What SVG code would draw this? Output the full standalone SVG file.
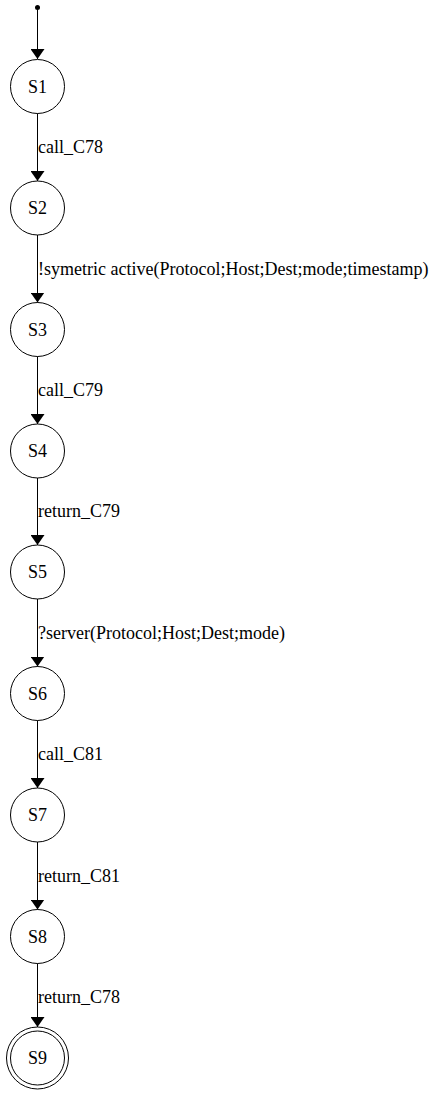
<svg xmlns="http://www.w3.org/2000/svg" width="439" height="1103" viewBox="0 0 439 1103">
<defs>
<style>
.n{fill:none;stroke:#000;stroke-width:1}
.t{font-family:"Liberation Serif","Times New Roman",serif;font-size:18px;fill:#000}
.c{text-anchor:middle}
.e{stroke:#000;stroke-width:1;fill:none}
</style>
<marker id="a" viewBox="0 0 10 14" refX="10" refY="7" markerWidth="10" markerHeight="14" markerUnits="userSpaceOnUse" orient="auto"><path d="M0,0L10,7L0,14Z" fill="#000"/></marker>
</defs>
<rect width="439" height="1103" fill="#fff"/>
<g id="edges">
<line class="e" x1="37.5" y1="9.5" x2="37.5" y2="59" marker-end="url(#a)"/>
<line class="e" x1="37.5" y1="113.5" x2="37.5" y2="181" marker-end="url(#a)"/>
<text class="t" x="38" y="152.5">call_C78</text>
<line class="e" x1="37.5" y1="235" x2="37.5" y2="302.5" marker-end="url(#a)"/>
<text class="t" x="38" y="274.5">!symetric active(Protocol;Host;Dest;mode;timestamp)</text>
<line class="e" x1="37.5" y1="356.5" x2="37.5" y2="424" marker-end="url(#a)"/>
<text class="t" x="38" y="395.5">call_C79</text>
<line class="e" x1="37.5" y1="478" x2="37.5" y2="545" marker-end="url(#a)"/>
<text class="t" x="38" y="517">return_C79</text>
<line class="e" x1="37.5" y1="599" x2="37.5" y2="666.5" marker-end="url(#a)"/>
<text class="t" x="38" y="638.5">?server(Protocol;Host;Dest;mode)</text>
<line class="e" x1="37.5" y1="720.5" x2="37.5" y2="788" marker-end="url(#a)"/>
<text class="t" x="38" y="760">call_C81</text>
<line class="e" x1="37.5" y1="842" x2="37.5" y2="909.5" marker-end="url(#a)"/>
<text class="t" x="38" y="881.5">return_C81</text>
<line class="e" x1="37.5" y1="963.5" x2="37.5" y2="1027" marker-end="url(#a)"/>
<text class="t" x="38" y="1003">return_C78</text>
</g>
<g id="init"><circle cx="37.5" cy="7.5" r="2.5" fill="#000"/></g>
<g id="S1"><circle class="n" cx="37.5" cy="86.5" r="27"/><text class="t c" x="37.5" y="92.5">S1</text></g>
<g id="S2"><circle class="n" cx="37.5" cy="208" r="27"/><text class="t c" x="37.5" y="214">S2</text></g>
<g id="S3"><circle class="n" cx="37.5" cy="329.5" r="27"/><text class="t c" x="37.5" y="335.5">S3</text></g>
<g id="S4"><circle class="n" cx="37.5" cy="451" r="27"/><text class="t c" x="37.5" y="457">S4</text></g>
<g id="S5"><circle class="n" cx="37.5" cy="572" r="27"/><text class="t c" x="37.5" y="578">S5</text></g>
<g id="S6"><circle class="n" cx="37.5" cy="693.5" r="27"/><text class="t c" x="37.5" y="699.5">S6</text></g>
<g id="S7"><circle class="n" cx="37.5" cy="815" r="27"/><text class="t c" x="37.5" y="821">S7</text></g>
<g id="S8"><circle class="n" cx="37.5" cy="936.5" r="27"/><text class="t c" x="37.5" y="942.5">S8</text></g>
<g id="S9"><circle class="n" cx="37.5" cy="1058" r="27"/><circle class="n" cx="37.5" cy="1058" r="31"/><text class="t c" x="37.5" y="1064">S9</text></g>
</svg>
